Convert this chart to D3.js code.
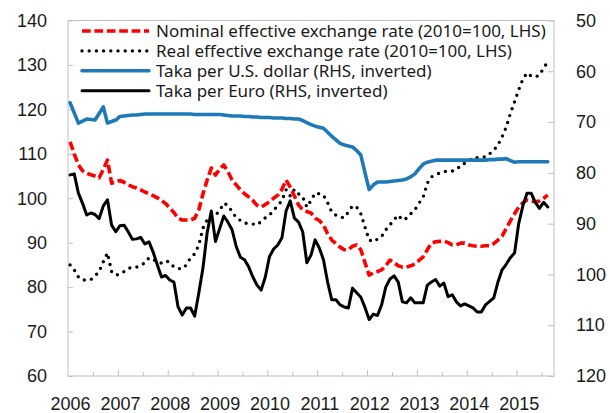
<!DOCTYPE html>
<html>
<head>
<meta charset="utf-8">
<script src="https://cdn.jsdelivr.net/npm/d3@7"></script>
<style>
  body { margin: 0; background: #fff; }
  svg { display: block; font-family: "Noto Sans", "Open Sans", sans-serif; }
  .tick text { fill: #1a1a1a; }
</style>
</head>
<body>
<div id="chart"></div>
<script>
// monthly observations, Jan 2006 onward (index 0 = Jan 2006)
const yearLabels = ["2006","2007","2008","2009","2010","2011","2012","2013","2014","2015"];
const leftTicks = [60, 70, 80, 90, 100, 110, 120, 130, 140];
const rightTicks = [50, 60, 70, 80, 90, 100, 110, 120];

const seriesNames = [
  "Nominal effective exchange rate (2010=100, LHS)",
  "Real effective exchange rate (2010=100, LHS)",
  "Taka per U.S. dollar (RHS, inverted)",
  "Taka per Euro (RHS, inverted)"
];

// nominal effective exchange rate, LHS
const neer = [112.7,110.0,107.5,106.2,105.6,105.3,105.0,104.6,106.5,108.6,103.4,103.6,
  104.0,103.6,103.0,102.6,102.3,101.9,101.4,101.0,100.6,100.1,99.5,98.8,
  97.8,96.8,95.5,95.1,95.1,95.1,95.5,97.4,101.0,104.1,106.8,105.2,
  106.5,107.5,106.0,104.1,103.0,101.9,101.0,100.3,99.5,98.4,98.0,98.6,
  99.2,100.0,100.7,102.0,104.1,102.5,100.5,98.5,97.4,97.0,96.7,95.5,
  95.0,94.0,92.0,90.6,89.8,89.0,88.4,88.4,89.2,89.5,88.4,85.5,
  82.7,83.2,83.5,83.9,84.8,86.1,85.5,84.8,84.5,84.5,84.8,85.2,
  86.0,86.8,88.4,89.9,90.2,90.3,90.4,90.0,89.5,89.5,89.9,89.9,
  89.5,89.3,89.2,89.2,89.3,89.3,89.8,90.6,91.5,93.2,94.9,96.5,
  98.0,99.0,99.6,99.4,99.2,99.4,100.0,100.7];

// real effective exchange rate, LHS
const reer = [85.0,83.9,82.3,81.6,81.6,81.7,82.5,83.5,85.7,87.7,83.5,82.7,
  82.9,83.5,84.2,84.5,84.5,85.0,85.4,86.6,86.2,85.8,85.4,85.9,
  85.6,84.5,84.2,84.1,85.0,86.6,87.5,89.5,93.3,95.1,96.2,96.2,
  97.2,98.9,98.4,97.0,95.6,95.0,94.4,94.3,94.2,94.0,94.8,95.6,
  96.2,97.3,98.3,99.5,101.9,100.5,102.0,101.0,100.3,98.0,99.5,101.2,
  101.0,100.7,99.0,96.9,96.2,95.8,95.6,96.9,98.3,98.0,96.5,93.5,
  90.6,90.2,90.8,91.4,92.9,94.0,95.2,96.2,95.1,95.5,96.5,97.4,
  98.9,100.2,103.4,104.8,105.3,105.7,106.0,106.1,106.1,106.8,107.0,107.9,
  108.5,109.1,109.1,109.2,109.3,110.0,110.8,112.0,113.8,116.0,119.1,121.7,
  124.4,126.8,128.2,127.5,127.3,127.7,129.3,130.7];

// taka per U.S. dollar, RHS inverted
const usd = [66.2,68.2,70.2,69.8,69.4,69.5,69.6,68.3,67.0,70.2,69.9,69.6,
  68.9,68.8,68.7,68.6,68.6,68.5,68.4,68.4,68.4,68.4,68.4,68.4,
  68.4,68.4,68.4,68.4,68.4,68.4,68.5,68.5,68.5,68.5,68.5,68.5,
  68.5,68.6,68.7,68.8,68.8,68.8,68.9,68.9,69.0,69.0,69.1,69.1,
  69.1,69.2,69.2,69.2,69.3,69.3,69.4,69.4,69.7,70.1,70.5,70.8,
  71.0,71.2,72.0,72.8,73.5,74.2,74.5,74.7,74.9,75.6,76.5,80.0,
  83.3,82.4,81.8,81.8,81.8,81.7,81.6,81.5,81.4,81.2,80.8,80.2,
  79.2,78.3,77.9,77.7,77.5,77.5,77.5,77.5,77.5,77.5,77.5,77.5,
  77.5,77.5,77.5,77.5,77.5,77.4,77.4,77.3,77.3,77.2,77.6,77.9,
  77.8,77.8,77.8,77.8,77.8,77.8,77.8,77.8];

// taka per euro, RHS inverted
const eur = [80.4,80.2,84.0,86.0,88.3,87.9,88.2,89.0,86.5,85.3,90.3,91.6,
  90.4,90.3,91.6,93.1,93.0,92.7,94.0,93.6,95.6,98.1,100.5,100.2,
  101.1,101.5,106.4,108.0,106.6,106.6,108.2,103.6,98.7,91.8,87.5,93.5,
  91.0,88.5,89.7,91.2,94.5,96.6,97.1,98.5,100.5,102.1,103.1,100.5,
  96.5,95.0,94.2,92.8,87.5,85.5,88.9,89.7,91.6,97.7,96.2,93.2,
  94.8,97.1,101.5,105.0,105.0,106.0,106.4,106.6,102.7,103.6,104.5,106.5,
  108.9,107.8,108.1,106.0,102.5,100.9,100.3,101.5,105.4,105.6,104.6,105.6,
  105.6,105.6,102.1,101.5,101.0,102.3,101.7,104.4,104.0,105.4,106.2,105.8,
  106.2,106.6,107.4,107.4,106.0,105.3,104.6,101.5,99.1,98.0,96.7,95.8,
  90.0,86.5,84.0,84.0,85.8,87.0,85.8,86.7];

const width = 610, height = 413;
const plot = {left: 68, right: 554, top: 20.5, bottom: 376};
const nMonths = 117;

const svg = d3.select("#chart").append("svg")
  .attr("width", width)
  .attr("height", height);

// scales
const x = d3.scaleLinear().domain([0, nMonths]).range([plot.left, plot.right]);
const yL = d3.scaleLinear().domain([60, 140]).range([plot.bottom, plot.top]);
const yR = d3.scaleLinear().domain([50, 120]).range([plot.top, plot.bottom]); // inverted

// plot frame
svg.append("rect")
  .attr("x", plot.left).attr("y", plot.top)
  .attr("width", plot.right - plot.left)
  .attr("height", plot.bottom - plot.top)
  .attr("fill", "none")
  .attr("stroke", "#bfbfbf")
  .attr("stroke-width", 1);

// axes: ticks point inward, labels outside
svg.append("g")
  .attr("transform", `translate(${plot.left},0)`)
  .call(d3.axisLeft(yL).tickValues(leftTicks).tickSizeInner(-5).tickSizeOuter(0).tickPadding(21));

svg.append("g")
  .attr("transform", `translate(${plot.right},0)`)
  .call(d3.axisRight(yR).tickValues(rightTicks).tickSizeInner(-6).tickSizeOuter(0).tickPadding(22));

// half-year tick marks along the bottom
const halfYears = d3.range(6, nMonths, 6);
svg.append("g")
  .attr("transform", `translate(0,${plot.bottom})`)
  .call(d3.axisBottom(x).tickValues(halfYears)
    .tickSizeInner(-4).tickSizeOuter(0).tickFormat(""))
  .selectAll(".tick line")
  .attr("y2", d => d % 12 === 0 ? -6 : -4);

// year labels, centred on January of each year
svg.append("g")
  .attr("transform", `translate(0,${plot.bottom})`)
  .call(d3.axisBottom(x).tickValues(yearLabels.map((d, i) => i * 12 + 0.5))
    .tickSize(0).tickPadding(21).tickFormat((d, i) => yearLabels[i]));

svg.selectAll(".domain").remove();
svg.selectAll(".tick line").attr("stroke", "#bfbfbf");
svg.selectAll(".tick text").attr("font-size", 18).attr("fill", "#1a1a1a");

// lines
const styles = [
  {data: neer, y: yL, color: "#ff0000", width: 3.6, dash: "8.7,3.7", cap: "butt"},
  {data: reer, y: yL, color: "#000000", width: 3.4, dash: "0,7.2", cap: "round"},
  {data: usd, y: yR, color: "#1f78b8", width: 3.6, dash: null, cap: "round"},
  {data: eur, y: yR, color: "#000000", width: 3, dash: null, cap: "round"}
];

// draw order: real, nominal, usd, euro on top
[1, 0, 2, 3].forEach(i => {
  const s = styles[i];
  const line = d3.line()
    .x((d, m) => x(m + 0.5))
    .y(d => s.y(d));
  svg.append("path")
    .datum(s.data)
    .attr("d", line)
    .attr("fill", "none")
    .attr("stroke", s.color)
    .attr("stroke-width", s.width)
    .attr("stroke-linejoin", "round")
    .attr("stroke-linecap", s.cap)
    .attr("stroke-dasharray", s.dash);
});

// legend
const legend = svg.append("g").attr("transform", "translate(82,31)");
const item = legend.selectAll("g")
  .data(seriesNames)
  .join("g")
  .attr("transform", (d, i) => `translate(0,${i * 19.9})`);

item.append("line")
  .attr("x1", 0).attr("x2", 67)
  .attr("y1", 0).attr("y2", 0)
  .attr("stroke", (d, i) => styles[i].color)
  .attr("stroke-width", (d, i) => styles[i].width)
  .attr("stroke-dasharray", (d, i) => styles[i].dash)
  .attr("stroke-linecap", (d, i) => styles[i].cap);

item.append("text")
  .attr("x", 74)
  .attr("dy", "0.35em")
  .attr("font-size", 17)
  .attr("fill", "#1a1a1a")
  .text(d => d);
</script>
</body>
</html>
